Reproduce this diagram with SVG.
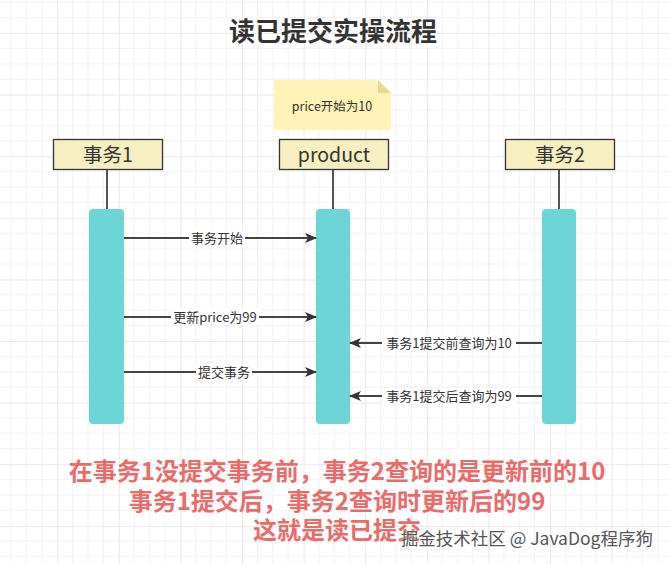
<svg xmlns="http://www.w3.org/2000/svg" width="669" height="564" viewBox="0 0 669 564">
<style>
.cjk{font-family:"Noto Sans CJK SC","Noto Sans",sans-serif}
.box{fill:#f6efc2;stroke:#333;stroke-width:1.3}
.life{stroke:#555;stroke-width:2}
.act{fill:#6dd5d5}
.lbl{font-size:19.5px;fill:#333;text-anchor:middle}
.msg{stroke:#444;stroke-width:1.8;fill:none;marker-end:url(#ah)}
.mlbl{font-size:13px;fill:#333;text-anchor:middle}
.bg{fill:#fff}
.red{font-size:24px;font-weight:bold;fill:#ea6b68;text-anchor:middle}
</style>
<defs>
<pattern id="grid" patternUnits="userSpaceOnUse" x="57.2" y="33" width="61.6" height="61.6">
<path d="M15.4 0V61.6M30.8 0V61.6M46.2 0V61.6M0 15.4H61.6M0 30.8H61.6M0 46.2H61.6" stroke="#f2f2f2" stroke-width="1"/>
<path d="M0.5 0V61.6M0 0.5H61.6" stroke="#e9e9e9" stroke-width="1.2"/>
</pattern>
<marker id="ah" viewBox="0 0 12 10" refX="11" refY="5" markerWidth="12" markerHeight="10" markerUnits="userSpaceOnUse" orient="auto">
<path d="M0 0L12 5L0 10L3 5Z" fill="#333"/>
</marker>
</defs>
<rect width="669" height="564" fill="#fff"/>
<rect width="669" height="564" fill="url(#grid)"/>
<text class="cjk" x="333" y="41" font-size="26" font-weight="bold" fill="#333" text-anchor="middle">读已提交实操流程</text>
<g id="note">
<path d="M274 80H378L391 93V130H274Z" fill="#fff3b8"/>
<path d="M378 80L391 93H378Z" fill="#e8d98f"/>
<text class="cjk" x="332" y="111" font-size="12.5" fill="#333" text-anchor="middle">price开始为10</text>
</g>
<g id="tx1">
<rect class="box" x="53.5" y="139.5" width="109" height="30"/>
<text class="cjk lbl" x="108" y="162">事务1</text>
<line class="life" x1="107" y1="170" x2="107" y2="209"/>
<rect class="act" x="89" y="209" width="35" height="215" rx="4"/>
</g>
<g id="product">
<rect class="box" x="279.5" y="139.5" width="109" height="30"/>
<text class="cjk lbl" x="334" y="162">product</text>
<line class="life" x1="333" y1="170" x2="333" y2="209"/>
<rect class="act" x="316" y="209" width="34" height="215" rx="4"/>
</g>
<g id="tx2">
<rect class="box" x="505.5" y="139.5" width="109" height="30"/>
<text class="cjk lbl" x="560" y="162">事务2</text>
<line class="life" x1="559" y1="170" x2="559" y2="209"/>
<rect class="act" x="542" y="209" width="34" height="215" rx="4"/>
</g>
<g id="connectors">
<line class="msg" x1="124" y1="238" x2="316" y2="238"/>
<rect class="bg" x="189" y="230" width="56" height="16"/>
<text class="cjk mlbl" x="217" y="243">事务开始</text>
<line class="msg" x1="124" y1="317" x2="316" y2="317"/>
<rect class="bg" x="171" y="309" width="88" height="16"/>
<text class="cjk mlbl" x="215" y="322">更新price为99</text>
<line class="msg" x1="124" y1="372" x2="316" y2="372"/>
<rect class="bg" x="196" y="364" width="56" height="16"/>
<text class="cjk mlbl" x="224" y="377">提交事务</text>
<line class="msg" x1="542" y1="343" x2="350" y2="343"/>
<rect class="bg" x="382" y="335" width="134" height="16"/>
<text class="cjk mlbl" x="449" y="348">事务1提交前查询为10</text>
<line class="msg" x1="542" y1="396" x2="350" y2="396"/>
<rect class="bg" x="382" y="388" width="134" height="16"/>
<text class="cjk mlbl" x="449" y="401">事务1提交后查询为99</text>
</g>
<g id="summary">
<text class="cjk red"><tspan x="337" y="480">在事务1没提交事务前，事务2查询的是更新前的10</tspan><tspan x="337" y="510">事务1提交后，事务2查询时更新后的99</tspan><tspan x="337" y="539">这就是读已提交</tspan></text>
</g>
<text class="cjk" x="653" y="545" font-size="17.5" fill="#555" stroke="#fff" stroke-width="0.6" paint-order="stroke" text-anchor="end">掘金技术社区 @ JavaDog程序狗</text>
</svg>
